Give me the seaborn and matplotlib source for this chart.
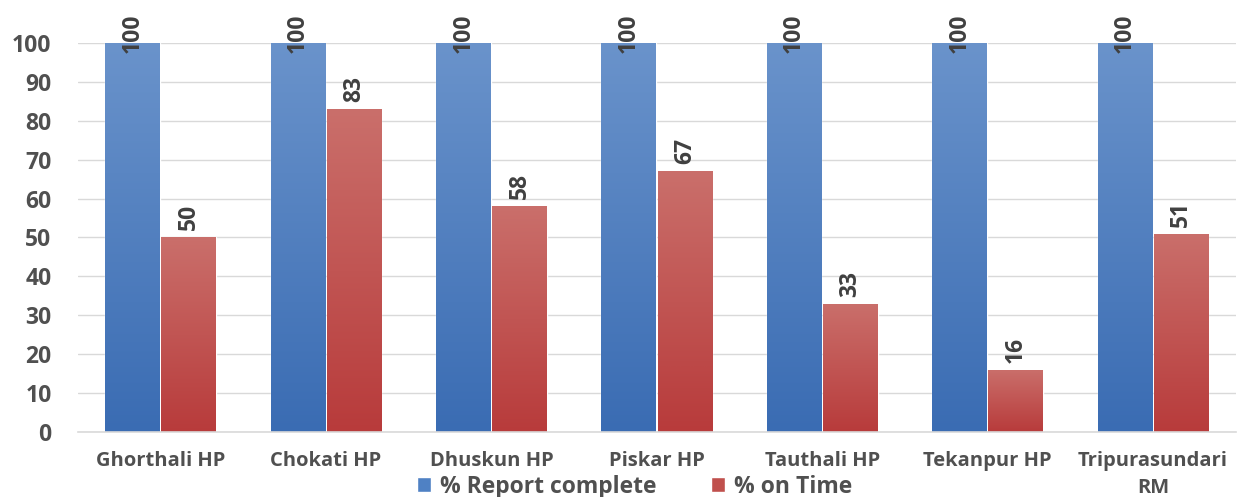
import numpy as np
import pandas as pd
import matplotlib
matplotlib.use("Agg")
import matplotlib.pyplot as plt
import matplotlib.colors as mcolors
import seaborn as sns

categories = ["Ghorthali HP", "Chokati HP", "Dhuskun HP", "Piskar HP",
              "Tauthali HP", "Tekanpur HP", "Tripurasundari\nRM"]
report_complete = [100, 100, 100, 100, 100, 100, 100]
on_time = [50, 83, 58, 67, 33, 16, 51]
series_names = ["% Report complete", "% on Time"]
y_ticks = list(range(0, 101, 10))

sns.set_theme(style="white")
plt.rcParams["font.family"] = ["Open Sans", "DejaVu Sans"]

df = pd.DataFrame({
    "category": categories * 2,
    "value": report_complete + on_time,
    "series": [series_names[0]] * len(categories) + [series_names[1]] * len(categories),
})

base_colors = {series_names[0]: "#4F81C4", series_names[1]: "#C0504D"}
grad = {
    series_names[0]: ("#6A93CB", "#3A6CB3"),
    series_names[1]: ("#CA6F6B", "#B83B3B"),
}

fig = plt.figure(figsize=(12.37, 4.97), dpi=100)
ax = fig.add_axes([0.063, 0.131, 0.936, 0.7825])

sns.barplot(data=df, x="category", y="value", hue="series", order=categories,
            hue_order=series_names, palette=base_colors, width=0.68, gap=0.03,
            ax=ax, legend=True, saturation=1)

ax.set_ylim(0, 100)
ax.set_xlim(-0.5, len(categories) - 0.5)
ax.set_yticks(y_ticks)
ax.yaxis.grid(True, color="#D9D9D9", linewidth=1)
ax.set_axisbelow(True)
for s in ["top", "right", "left"]:
    ax.spines[s].set_visible(False)
ax.spines["bottom"].set_color("#D9D9D9")
ax.spines["bottom"].set_linewidth(1.2)
ax.set_xlabel("")
ax.set_ylabel("")
ax.tick_params(axis="both", length=0)
for lab in ax.get_yticklabels():
    lab.set_fontsize(16.5)
    lab.set_fontweight("bold")
    lab.set_color("#505050")
ax.tick_params(axis="y", pad=19)
ax.tick_params(axis="x", pad=14)
for lab in ax.get_xticklabels():
    lab.set_fontsize(14.5)
    lab.set_fontweight("bold")
    lab.set_color("#505050")
    lab.set_linespacing(1.45)
    lab.set_va("top")

# gradient fill for each bar
label_texts = []
for i, container in enumerate(ax.containers):
    name = series_names[i]
    cmap = mcolors.LinearSegmentedColormap.from_list(name, [grad[name][1], grad[name][0]])
    for bar in container:
        x0 = bar.get_x()
        w = bar.get_width()
        h = bar.get_height()
        img = np.linspace(0, 1, 256).reshape(-1, 1)
        im = ax.imshow(img, extent=[x0, x0 + w, 0, h], origin="lower", cmap=cmap,
                       aspect="auto", zorder=bar.get_zorder() + 0.1, interpolation="bicubic")
        im.set_clip_path(bar)
    texts = ax.bar_label(container, labels=[f"{v:g}" for v in container.datavalues],
                         rotation=90, padding=5, fontsize=16.5, fontweight="bold",
                         color="#404040")
    label_texts.extend(texts)

ax.set_xlim(-0.5, len(categories) - 0.5)
ax.set_ylim(0, 100)

# keep data labels inside the chart area (like the original), shifting down if needed
fig.canvas.draw()
renderer = fig.canvas.get_renderer()
fig_h = fig.bbox.height
for t in label_texts:
    bb = t.get_window_extent(renderer)
    limit = fig_h - 14
    if bb.y1 > limit:
        shift = bb.y1 - limit
        ox, oy = t.xyann
        t.xyann = (ox, oy - shift * 72.0 / fig.dpi)

handles, labels = ax.get_legend_handles_labels()
ax.legend_.remove()
leg = fig.legend(handles, labels, loc="lower center", bbox_to_anchor=(0.513, -0.045),
                 ncol=2, frameon=False, fontsize=16.5, handlelength=0.6, handleheight=0.6,
                 handletextpad=0.4, columnspacing=2.4)
for t in leg.get_texts():
    t.set_fontweight("bold")
    t.set_color("#505050")

fig.savefig("out.png", dpi=100)
